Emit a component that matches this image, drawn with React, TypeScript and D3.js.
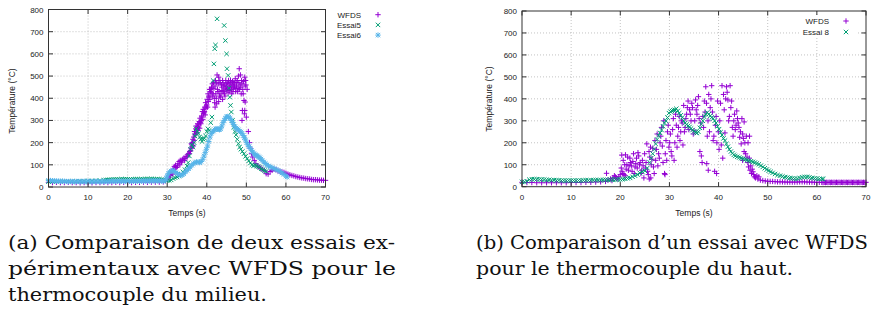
import React from 'react';
import * as d3 from 'd3';

type Pt = [number, number];

// axes (both panels share the same ranges)
const xTicks = [0, 10, 20, 30, 40, 50, 60, 70];
const yTicks = [0, 100, 200, 300, 400, 500, 600, 700, 800];

// (a) thermocouple du milieu
const wfdsMilieu: Pt[] = [
  [0,21],[1,20],[2,21],[3,20],[4,20],[5,21],[6,20],[7,20],[8,19],[9,20],
  [10,20],[11,19],[12,20],[13,20],[14,21],[15,20],[16,20],[17,21],[18,20],[19,21],
  [20,21],[21,20],[22,21],[23,21],[24,22],[25,21],[26,22],[27,22],[28,22],[29,23],
  [29.5,28],[30,35],[30.2,40],[30.3,45],[30.6,55],[30.8,52],[30.9,62],[31.2,70],[31.4,58],[31.5,80],[31.8,92],
  [32,85],[32.1,98],[32.4,88],[32.6,95],[32.7,105],[33,115],[33.2,100],[33.3,120],[33.6,112],[33.8,118],[33.9,125],
  [34.2,130],[34.4,120],[34.5,128],[34.8,138],[35,135],[35.1,145],[35.4,150],[35.6,150],[35.7,160],[35.9,165],
  [36,175],[36.1,195],[36.2,190],[36.3,180],[36.4,200],[36.5,215],[36.6,185],[36.7,225],[36.8,210],[36.9,250],
  [37,235],[37.1,240],[37.2,262],[37.3,275],[37.4,245],[37.5,260],[37.6,270],[37.7,285],[37.8,255],[37.9,270],
  [38,280],[38.1,295],[38.2,265],[38.3,310],[38.4,290],[38.5,285],[38.6,300],[38.7,320],[38.8,315],[38.9,340],
  [39,305],[39.1,350],[39.2,330],[39.3,335],[39.4,340],[39.5,360],[39.6,325],[39.7,380],[39.8,355],[39.9,365],
  [40,370],[40.1,395],[40.2,360],[40.3,420],[40.4,385],[40.5,410],[40.6,405],[40.7,440],[40.8,395],[40.9,430],
  [41,440],[41.1,425],[41.2,450],[41.3,445],[41.4,465],[41.5,410],[41.6,420],[41.7,470],[41.8,445],[41.9,400],
  [42,380],[42.1,455],[42.1,360],[42.2,480],[42.3,420],[42.4,400],[42.5,470],[42.5,375],[42.6,505],[42.7,440],[42.8,430],[42.9,465],
  [43,495],[43,385],[43.1,430],[43.2,410],[43.3,480],[43.4,470],[43.5,405],[43.6,420],[43.7,460],[43.8,450],[43.9,435],
  [44,480],[44,395],[44.1,470],[44.2,430],[44.3,455],[44.4,460],[44.5,420],[44.6,410],[44.7,445],[44.8,480],[44.9,465],
  [45,440],[45.1,455],[45.2,470],[45.3,440],[45.4,425],[45.5,480],[45.6,465],[45.7,435],[45.8,450],[45.9,470],
  [46,480],[46.1,455],[46.2,440],[46.3,420],[46.4,460],[46.5,475],[46.6,430],[46.7,445],[46.8,470],[46.9,460],
  [47,450],[47.1,470],[47.2,488],[47.3,430],[47.4,445],[47.5,455],[47.6,470],[47.7,480],[47.8,430],[47.9,445],
  [48,500],[48.1,470],[48.2,533],[48.3,440],[48.4,460],[48.5,505],[48.6,450],[48.7,420],[48.8,480],[48.9,465],[48.9,300],
  [49,345],[49.1,440],[49.2,420],[49.3,475],[49.4,390],[49.5,330],[49.6,495],[49.6,345],[49.7,383],[49.7,455],[49.8,480],[49.9,460],
  [50,315],[50.2,440],[50.5,250],[50.8,200],[51,175],[51.3,150],[51.6,135],[52,120],[52.4,105],[52.8,95],
  [53.2,90],[53.6,85],[54,80],[54.5,75],[55,60],[55.5,58],[56,70],[56.5,75],[57,80],[57.5,78],
  [58,72],[58.5,70],[59,68],[59.5,66],[60,62],[60.5,58],[61,55],[61.5,52],[62,50],[62.5,47],
  [63,45],[63.5,43],[64,41],[64.5,40],[65,38],[65.5,37],[66,36],[66.5,34],[67,33],[67.5,33],
  [68,32],[68.5,31],[69,31],[69.5,30],[70,30],
];

const essai5: Pt[] = [
  [0,24],[1,24],[2,24],[3,25],[4,25],[5,25],[6,25],[7,26],[8,26],[9,26],[10,27],[11,27],[12,28],[13,29],
  [14,30],[14.5,31],[15,32],[15.5,33],[16,33],[16.5,34],[17,34],[17.5,34],[18,34],[18.5,35],[19,35],[19.5,35],
  [20,35],[20.5,34],[21,34],[21.5,35],[22,35],[22.5,35],[23,35],[23.5,35],[24,35],[24.5,36],[25,36],[25.5,36],
  [26,36],[26.5,35],[27,35],[27.5,35],[28,35],[28.5,34],[29,33],
  [29.5,30],[30,28],[30.5,30],[31,32],[31.5,38],[32,42],[32.5,45],[33,50],[33.5,58],[34,68],[34.5,78],[35,95],
  [35.3,110],[35.6,140],[35.9,170],[36.2,190],[36.5,180],[36.8,200],[37,230],[37.3,262],[37.6,250],[37.9,240],
  [38.2,225],[38.5,215],[38.8,205],[39.1,215],[39.4,220],[39.7,230],[40,250],[40.3,262],[40.6,255],[41,290],
  [41.3,315],[41.6,480],[41.8,555],[42,623],[42.2,640],[42.6,758],[44.4,728],[44.7,660],[45,600],[45.1,533],
  [45.4,503],[45.6,445],[45.8,405],[46,368],[46.2,338],[46.5,300],[46.8,270],[47.1,250],[47.4,235],[47.7,215],
  [48,195],[48.3,180],[48.6,170],[49,160],[49.4,150],[49.8,138],[50.2,128],[50.6,118],[51,108],[51.4,100],
  [51.8,96],[52.2,98],[52.6,95],[53,92],[53.4,88],[53.8,82],[54.2,78],[54.6,74],[55,70],
];

const essai6: Pt[] = [
  [0,30],[0.5,29],[1,28],[1.5,27],[2,27],[2.5,26],[3,26],[3.5,26],[4,25],[4.5,25],[5,24],[5.5,25],[6,25],[6.5,24],
  [7,25],[7.5,25],[8,24],[8.5,25],[9,25],[9.5,24],[10,25],[10.5,25],[11,24],[11.5,25],[12,25],[12.5,25],[13,24],
  [13.5,25],[14,25],[14.5,25],[15,25],[15.5,25],[16,26],[16.5,26],[17,25],[17.5,26],[18,26],[18.5,26],[19,26],
  [19.5,25],[20,26],[20.5,26],[21,26],[21.5,26],[22,26],[22.5,27],[23,26],[23.5,27],[24,27],[24.5,27],[25,27],
  [25.5,27],[26,27],[26.5,28],[27,27],[27.5,27],[28,28],[28.5,27],
  [29,26],[29.5,30],[29.8,40],[30,50],[30.3,60],[30.6,68],[31,72],[31.4,75],[31.8,70],[32.2,65],[32.6,60],
  [33,55],[33.4,52],[33.8,55],[34.2,60],[34.6,68],[35,75],[35.4,82],[35.8,90],[36.2,98],[36.6,105],[37,110],
  [37.4,113],[37.8,112],[38.2,110],[38.6,115],[39,125],[39.3,140],[39.6,155],[39.9,170],[40.2,185],[40.5,205],
  [40.8,225],[41.1,240],[41.4,248],[41.7,252],[42,258],[42.3,262],[42.6,263],[42.9,260],[43.2,258],[43.5,262],
  [43.8,275],[44.1,290],[44.4,300],[44.7,310],[45,316],[45.3,318],[45.6,315],[45.9,310],[46.2,300],[46.5,292],
  [46.8,282],[47.1,272],[47.4,265],[47.7,262],[48,258],[48.3,252],[48.6,248],[48.9,242],[49.2,232],[49.5,222],
  [49.8,212],[50.1,200],[50.4,190],[50.7,182],[51,175],[51.3,165],[51.6,158],[51.9,150],[52.2,146],[52.5,142],
  [52.8,140],[53.1,136],[53.4,132],[53.7,126],[54,120],[54.4,113],[54.8,106],[55.2,100],[55.6,95],[56,91],
  [56.5,87],[57,83],[57.5,79],[58,75],[58.5,70],[59,63],[59.5,57],[60,50],[60.3,45],
];

// (b) thermocouple du haut
const wfdsHaut: Pt[] = [
  [0,20],[1,19],[2,19],[3,18],[4,18],[5,18],[6,18],[7,18],[8,18],[9,18],[10,19],[11,19],[12,19],
  [13,20],[14,20],[15,21],[16,22],[17,24],[17.2,61],[17.5,30],[18,35],[18.3,28],[18.5,40],[18.8,50],
  [19,45],[19.2,38],[19.5,35],[19.7,45],[20,55],[20.2,85],[20.3,144],[20.35,70],[20.5,60],[20.6,120],
  [20.75,55],[20.9,100],[21,50],[21.05,145],[21.2,80],[21.35,100],[21.5,135],[21.65,75],[21.8,95],[21.95,130],
  [22.1,110],[22.25,95],[22.4,70],[22.55,115],[22.7,150],[22.85,60],[23,90],[23.15,105],[23.3,130],[23.45,85],
  [23.6,155],[23.75,140],[23.9,100],[24.05,110],[24.2,60],[24.35,75],[24.5,120],[24.65,95],[24.8,40],[24.95,150],
  [25.1,85],[25.25,110],[25.4,195],[25.55,70],[25.7,55],[25.85,160],[25.9,35],[26,135],[26.15,180],[26.2,40],
  [26.3,100],[26.45,125],[26.6,175],[26.75,90],[26.9,60],[27.05,210],[27.2,120],[27.35,170],[27.5,240],[27.65,95],
  [27.8,150],[27.95,130],[28.1,200],[28.25,230],[28.4,270],[28.55,185],[28.7,110],[28.85,300],[29,60],[29.1,55],
  [29.15,150],[29.3,210],[29.45,120],[29.6,250],[29.75,280],[29.9,180],[30.05,200],[30.2,240],[30.35,160],[30.5,140],
  [30.65,260],[30.8,310],[30.95,120],[31.1,200],[31.25,330],[31.4,280],[31.55,180],[31.7,230],[31.85,270],[32,320],
  [32.15,210],[32.3,250],[32.45,300],[32.6,290],[32.75,190],[32.9,370],[33.05,250],[33.2,270],[33.35,310],[33.5,330],
  [33.65,360],[33.8,390],[33.95,260],[34.1,350],[34.25,330],[34.4,300],[34.55,380],[34.7,360],[34.85,240],[35,255],
  [35.15,300],[35.3,395],[35.45,350],[35.6,330],[35.75,370],[35.9,410],[36.05,310],[36.2,160],[36.35,290],[36.5,140],
  [36.65,110],[36.8,320],[36.95,270],[37.1,390],[37.25,340],[37.4,455],[37.55,380],[37.6,105],[37.7,230],[37.85,300],
  [37.9,75],[38,420],[38.15,250],[38.3,360],[38.45,400],[38.6,460],[38.75,340],[38.9,210],[39.05,230],[39.2,70],
  [39.35,280],[39.5,320],[39.6,60],[39.65,200],[39.8,390],[39.95,250],[40.1,170],[40.25,300],[40.4,380],[40.55,190],
  [40.7,460],[40.85,130],[41,420],[41.15,350],[41.3,245],[41.45,400],[41.6,455],[41.75,430],[41.9,395],[42.05,300],
  [42.2,320],[42.35,460],[42.5,360],[42.65,390],[42.8,270],[42.95,230],[43.1,300],[43.25,330],[43.4,260],[43.55,280],
  [43.7,345],[43.85,310],[44,290],[44.15,270],[44.3,225],[44.45,250],[44.6,195],[44.75,310],[44.9,240],[44.9,120],
  [45.05,220],[45.2,295],[45.2,160],[45.35,200],[45.5,150],[45.65,230],[45.8,135],[45.95,110],[46,200],[46.1,90],
  [46.25,130],[46.3,230],[46.4,75],[46.55,95],[46.7,60],[46.85,80],[47,68],[47.15,55],[47.3,45],[47.5,40],
  [47.8,50],[48,35],[48.2,45],[48.5,30],[49,28],[49.5,26],[50,25],[50.5,24],[51,24],[51.5,23],[52,22],
  [52.5,22],[53,22],[53.5,21],[54,21],[54.5,21],[55,21],[55.5,21],[56,21],[56.5,22],[57,22],[57.5,22],
  [58,21],[58.5,21],[59,21],[59.5,20],[60,20],[60.5,20],[61,20],[61.25,19],[61.5,20],[61.75,19],[62,20],
  [62.25,19],[62.5,20],[62.75,19],[63,20],[63.25,19],[63.5,20],[63.75,19],[64,20],[64.25,19],[64.5,20],[64.75,19],
  [65,20],[65.25,19],[65.5,20],[65.75,19],[66,20],[66.25,19],[66.5,20],[66.75,19],[67,20],[67.25,19],[67.5,20],
  [67.75,19],[68,20],[68.25,19],[68.5,20],[68.75,19],[69,20],[69.25,19],[69.5,20],[69.75,19],[70,20],
];

const essai8: Pt[] = [
  [0,22],[0.5,22],[1,25],[1.5,32],[2,34],[2.5,34],[3,34],[3.5,33],[4,33],[4.5,32],[5,31],[5.5,31],[6,30],[6.5,30],
  [7,29],[7.5,29],[8,28],[8.5,28],[9,28],[9.5,28],[10,28],[10.5,28],[11,28],[11.5,28],[12,28],[12.5,29],[13,29],
  [13.5,29],[14,29],[14.5,30],[15,30],[15.5,30],[16,30],[16.5,31],[17,31],[17.5,31],[18,32],[18.5,32],[19,32],
  [19.5,33],[20,33],[20.5,34],[21,36],[21.5,38],[22,40],[22.5,45],[23,50],[23.5,55],[24,62],[24.5,68],[25,72],
  [25.5,85],[26,110],[26.3,130],[26.6,150],[26.9,170],[27.2,195],[27.5,215],[27.8,232],[28.1,245],[28.4,258],
  [28.7,275],[29,290],[29.3,300],[29.6,315],[29.9,335],[30.2,342],[30.5,345],[30.8,348],[31.1,350],[31.4,355],
  [31.7,345],[32,335],[32.3,325],[32.6,315],[32.9,300],[33.2,290],[33.5,283],[33.8,277],[34.1,272],[34.4,265],
  [34.7,258],[35,252],[35.3,247],[35.6,244],[35.9,250],[36.2,268],[36.5,285],[36.8,300],[37.1,318],[37.4,330],
  [37.7,338],[38,330],[38.3,322],[38.6,315],[38.9,310],[39.2,300],[39.5,290],[39.8,275],[40.1,262],[40.4,248],
  [40.7,235],[41,220],[41.3,210],[41.6,195],[41.9,182],[42.2,170],[42.5,160],[42.8,152],[43.1,145],[43.4,140],
  [43.8,136],[44.2,133],[44.6,130],[45,127],[45.4,124],[45.8,121],[46.2,118],[46.6,116],[47,113],[47.4,110],
  [47.8,106],[48.2,102],[48.6,96],[49,90],[49.4,84],[49.8,78],[50.2,73],[50.6,68],[51,63],[51.5,58],[52,53],
  [52.5,50],[53,47],[53.5,44],[54,42],[54.5,40],[55,38],[55.5,37],[56,37],[56.5,40],[57,43],[57.5,45],[58,45],
  [58.5,43],[59,40],[59.5,38],[60,37],[60.5,36],[61,36],[61.3,35],
];

const captionA = ['(a) Comparaison de deux essais ex-', 'périmentaux avec WFDS pour le', 'thermocouple du milieu.'];
const captionB = ['(b) Comparaison d’un essai avec WFDS', 'pour le thermocouple du haut.'];

const PURPLE = '#9400d3';
const GREEN = '#009e73';
const BLUE = '#56b4e9';

const glyph = (kind: string, cx: number, cy: number) => {
  const p = 2.7, c = 2.2;
  const plus = `M${cx - p},${cy}h${2 * p}M${cx},${cy - p}v${2 * p}`;
  const cross = `M${cx - c},${cy - c}l${2 * c},${2 * c}M${cx - c},${cy + c}l${2 * c},${-2 * c}`;
  if (kind === 'plus') return plus;
  if (kind === 'cross') return cross;
  return plus + cross;
};

const tickFont = { fontFamily: "'Liberation Sans', Arial, sans-serif", fontSize: 8, fill: '#222' };

const Panel = ({ frame, series, legend, yTitle }: any) => {
  const x = d3.scaleLinear().domain([0, 70]).range([frame.left, frame.right]);
  const y = d3.scaleLinear().domain([0, 800]).range([frame.bottom, frame.top]);
  const tk = 4.5;

  return (
    <g>
      {xTicks.slice(1, -1).map((t) => (
        <line key={'gx' + t} x1={x(t)} x2={x(t)} y1={frame.top} y2={frame.bottom}
          stroke="#b4b4b4" strokeWidth={0.8} strokeDasharray="1,2" />
      ))}
      {yTicks.slice(1, -1).map((t) => (
        <line key={'gy' + t} x1={frame.left} x2={frame.right} y1={y(t)} y2={y(t)}
          stroke="#b4b4b4" strokeWidth={0.8} strokeDasharray="1,2" />
      ))}

      {series.map((s: any) => (
        <path key={s.name} fill="none" stroke={s.color} strokeWidth={1}
          d={s.data.map((d: Pt) => glyph(s.kind, x(d[0]), y(d[1]))).join('')} />
      ))}

      <rect x={frame.left} y={frame.top} width={frame.right - frame.left} height={frame.bottom - frame.top}
        fill="none" stroke="#333" strokeWidth={1} />
      {xTicks.map((t) => (
        <g key={'tx' + t}>
          <line x1={x(t)} x2={x(t)} y1={frame.bottom} y2={frame.bottom - tk} stroke="#333" />
          <line x1={x(t)} x2={x(t)} y1={frame.top} y2={frame.top + tk} stroke="#333" />
          <text x={x(t)} y={frame.bottom + 13} textAnchor="middle" style={tickFont}>{t}</text>
        </g>
      ))}
      {yTicks.map((t) => (
        <g key={'ty' + t}>
          <line x1={frame.left} x2={frame.left + tk} y1={y(t)} y2={y(t)} stroke="#333" />
          <line x1={frame.right} x2={frame.right - tk} y1={y(t)} y2={y(t)} stroke="#333" />
          <text x={frame.left - 5} y={y(t) + 3} textAnchor="end" style={tickFont}>{t}</text>
        </g>
      ))}

      <text x={(frame.left + frame.right) / 2} y={frame.bottom + 29} textAnchor="middle" style={{ ...tickFont, fontSize: 8.5 }}>
        Temps (s)
      </text>
      <text transform={`translate(${yTitle.x},${yTitle.y}) rotate(-90)`} textAnchor="middle" style={{ ...tickFont, fontSize: 8.5 }}>
        Température (°C)
      </text>

      {legend.opaque && (
        <rect x={legend.textX - 30} y={legend.y0 - 6} width={legend.markX - legend.textX + 42}
          height={legend.dy * series.length + 1} fill="#fff" />
      )}
      {series.map((s: any, i: number) => (
        <g key={'lg' + s.name}>
          <text x={legend.textX} y={legend.y0 + i * legend.dy + 3} textAnchor="end" style={tickFont}>{s.name}</text>
          <path d={glyph(s.kind, legend.markX, legend.y0 + i * legend.dy)} stroke={s.color} strokeWidth={1} fill="none" />
        </g>
      ))}
    </g>
  );
};

// LaTeX-like caption; DejaVu Serif stands in for Computer Modern
const captionFont = { fontFamily: 'DejaVu Serif', fontSize: 19, fill: '#111' };

const App = () => {
  const seriesA = [
    { name: 'WFDS', data: wfdsMilieu, color: PURPLE, kind: 'plus' },
    { name: 'Essai5', data: essai5, color: GREEN, kind: 'cross' },
    { name: 'Essai6', data: essai6, color: BLUE, kind: 'star' },
  ];
  const seriesB = [
    { name: 'WFDS', data: wfdsHaut, color: PURPLE, kind: 'plus' },
    { name: 'Essai 8', data: essai8, color: GREEN, kind: 'cross' },
  ];
  const linesA = [
    { text: captionA[0], y: 249, w: 387 },
    { text: captionA[1], y: 275, w: 388 },
    { text: captionA[2], y: 301, w: 259 },
  ];
  const linesB = [
    { text: captionB[0], y: 249, w: 392 },
    { text: captionB[1], y: 275, w: 317 },
  ];

  return (
    <svg width={873} height={320} style={{ position: 'absolute', left: 0, top: 0, background: '#fff' }}>
      <Panel frame={{ left: 48.5, right: 325.5, top: 9.5, bottom: 187 }} series={seriesA}
        legend={{ textX: 361, markX: 378, y0: 14.7, dy: 10.2, opaque: false }} yTitle={{ x: 15, y: 101 }} />
      <Panel frame={{ left: 522, right: 866, top: 11, bottom: 186.7 }} series={seriesB}
        legend={{ textX: 829, markX: 846, y0: 21, dy: 11, opaque: true }} yTitle={{ x: 492, y: 99 }} />
      {linesA.map((l) => (
        <text key={l.text} x={8} y={l.y} textLength={l.w} lengthAdjust="spacingAndGlyphs" style={captionFont}>{l.text}</text>
      ))}
      {linesB.map((l) => (
        <text key={l.text} x={476} y={l.y} textLength={l.w} lengthAdjust="spacingAndGlyphs" style={captionFont}>{l.text}</text>
      ))}
    </svg>
  );
};

export default App;
